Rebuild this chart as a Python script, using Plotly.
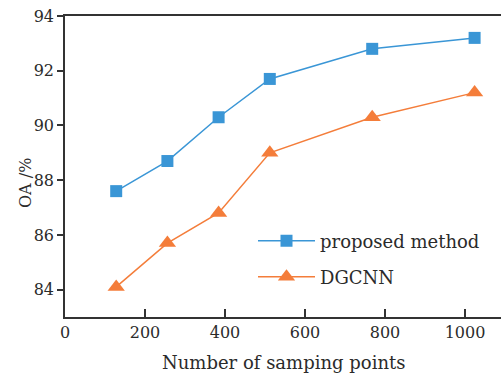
import plotly.graph_objects as go

x_points = [128, 256, 384, 512, 768, 1024]
proposed = [87.6, 88.7, 90.3, 91.7, 92.8, 93.2]
dgcnn = [84.1, 85.7, 86.8, 89.0, 90.3, 91.2]
x_ticks = [0, 200, 400, 600, 800, 1000]
y_ticks = [84, 86, 88, 90, 92, 94]

BLUE = "#3a96d6"
ORANGE = "#f47d3a"
FONT = "DejaVu Serif"
TXT = "#2b2b2b"

fig = go.Figure()
fig.add_trace(go.Scatter(
    x=x_points, y=proposed, name="proposed method", mode="lines+markers",
    line=dict(color=BLUE, width=1.5),
    marker=dict(symbol="square", size=12, color=BLUE),
    showlegend=True, legend="legend"))
fig.add_trace(go.Scatter(
    x=x_points, y=dgcnn, name="DGCNN", mode="lines+markers",
    line=dict(color=ORANGE, width=1.5),
    marker=dict(symbol="triangle-up", size=15, color=ORANGE),
    showlegend=True, legend="legend2"))

W, H = 501, 375
L, R, T, B = 65, 0, 16, 58
pw, ph = W - L - R, H - T - B

def px(xp):
    return (xp - L) / pw

def py(yp):
    return (H - B - yp) / ph

leg_common = dict(font=dict(family=FONT, size=18, color=TXT), bgcolor="rgba(0,0,0,0)",
                  itemwidth=57, xanchor="left", yanchor="middle", borderwidth=0,
                  visible=True)
fig.update_layout(
    width=W, height=H,
    margin=dict(l=L, r=R, t=T, b=B),
    paper_bgcolor="white", plot_bgcolor="white",
    showlegend=True,
    font=dict(family=FONT, size=16, color=TXT),
    legend=dict(x=px(253), y=py(241), **leg_common),
    legend2=dict(x=px(253), y=py(277), **leg_common),
    xaxis=dict(range=[0, 1090], tickvals=x_ticks, ticks="inside", ticklen=8,
               tickwidth=1.5, tickcolor="#333", showline=True, linecolor="#333",
               linewidth=1.5, mirror=True, showgrid=False, zeroline=False,
               tickfont=dict(family=FONT, size=16, color=TXT)),
    yaxis=dict(range=[83, 94], tickvals=y_ticks, ticks="outside", ticklen=6,
               tickwidth=1.5, tickcolor="#333", showline=True, linecolor="#333",
               linewidth=1.5, showgrid=False, zeroline=False,
               tickfont=dict(family=FONT, size=16, color=TXT)),
    annotations=[
        dict(text="Number of samping points", xref="paper", yref="paper",
             x=0.5, y=py(363), xanchor="center", yanchor="middle", showarrow=False,
             font=dict(family=FONT, size=18, color=TXT)),
        dict(text="OA /%", xref="paper", yref="paper", textangle=-90,
             x=px(25), y=py(183), xanchor="center", yanchor="middle", showarrow=False,
             font=dict(family=FONT, size=16, color=TXT)),
    ],
)

fig.write_html("out.html", config={"displayModeBar": False},
               post_script="document.body.style.margin='0';")
